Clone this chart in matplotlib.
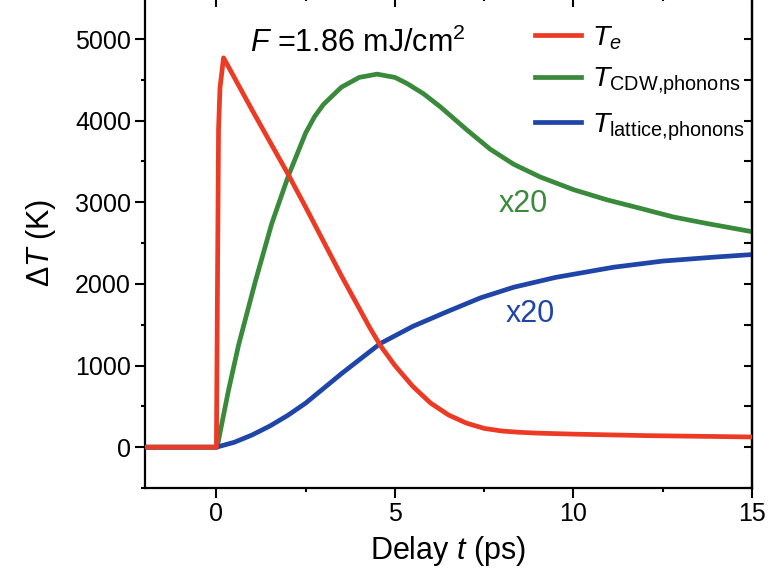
import matplotlib
matplotlib.use("Agg")
import matplotlib.pyplot as plt
from matplotlib.ticker import MultipleLocator

plt.rcParams['font.family'] = ['Liberation Sans', 'DejaVu Sans']
plt.rcParams['mathtext.fontset'] = 'custom'
plt.rcParams['mathtext.rm'] = 'Liberation Sans'
plt.rcParams['mathtext.it'] = 'Liberation Sans:italic'
plt.rcParams['mathtext.default'] = 'it'

# values
t_e = [-2, 0, 0.03, 0.06, 0.1, 0.2, 0.5, 1.0, 1.5, 2.0, 2.5, 3.0, 3.5, 4.0, 4.3, 4.6,
       5.0, 5.5, 6.0, 6.5, 7.0, 7.5, 8.0, 8.5, 9.0, 10, 12, 15]
T_e = [0, 0, 2000, 3900, 4400, 4770, 4530, 4130, 3740, 3350, 2940, 2520, 2100, 1700, 1460, 1240,
       1000, 745, 540, 395, 295, 230, 198, 182, 172, 160, 142, 125]

t_cdw = [-2, 0.02, 0.34, 0.62, 1.09, 1.55, 2.02, 2.5, 2.75, 3.0, 3.5, 4.0, 4.5, 5.0, 5.34, 5.8,
         6.27, 7.02, 7.67, 8.33, 9.07, 10.0, 10.94, 11.88, 12.8, 13.74, 15.0]
T_cdw = [0, 0, 700, 1250, 2030, 2740, 3330, 3850, 4050, 4200, 4410, 4530, 4570, 4530, 4455, 4330,
         4170, 3885, 3650, 3465, 3310, 3155, 3030, 2925, 2820, 2740, 2640]

t_lat = [-2, 0, 0.5, 1.0, 1.5, 2.0, 2.5, 3.0, 3.5, 4.0, 4.59, 5.5, 6.46, 7.4, 8.33,
         9.5, 11.13, 12.5, 14.0, 15.0]
T_lat = [0, 0, 60, 150, 260, 390, 540, 720, 900, 1070, 1270, 1480, 1660, 1830, 1960,
         2080, 2205, 2280, 2330, 2360]

red = '#ec3a24'
green = '#3a8a3c'
blue = '#1f45a8'

fig = plt.figure(figsize=(7.71, 5.77), dpi=100)
ax = fig.add_axes([145/771, 89/577, 607/771, 491/577])

ax.plot(t_e, T_e, color=red, lw=3.4, label=r'$T_e$', zorder=3, solid_joinstyle='round')
ax.plot(t_cdw, T_cdw, color=green, lw=3.4, label=r'$T_{\mathrm{CDW{,}phonons}}$', zorder=2,
        solid_joinstyle='round')
ax.plot(t_lat, T_lat, color=blue, lw=3.4, label=r'$T_{\mathrm{lattice{,}phonons}}$', zorder=2,
        solid_joinstyle='round')

ax.set_xlim(-2, 15)
ax.set_ylim(-500, 5515)
ax.xaxis.set_major_locator(MultipleLocator(5))
ax.xaxis.set_minor_locator(MultipleLocator(2.5))
ax.yaxis.set_major_locator(MultipleLocator(1000))
ax.yaxis.set_minor_locator(MultipleLocator(500))

for s in ax.spines.values():
    s.set_linewidth(1.6)
ax.tick_params(which='major', direction='out', length=7, width=1.5, labelsize=18, pad=3)
ax.tick_params(which='minor', direction='out', length=3, width=1.5)

# inward ticks on top and right
secx = ax.secondary_xaxis('top')
secx.xaxis.set_major_locator(MultipleLocator(5))
secx.xaxis.set_minor_locator(MultipleLocator(2.5))
secx.tick_params(which='major', direction='in', length=7, width=1.5, labeltop=False)
secx.tick_params(which='minor', direction='in', length=3, width=1.5)
secy = ax.secondary_yaxis('right')
secy.yaxis.set_major_locator(MultipleLocator(1000))
secy.yaxis.set_minor_locator(MultipleLocator(500))
secy.tick_params(which='both', direction='in', length=6, width=1.5, labelright=False)
for s in list(secx.spines.values()) + list(secy.spines.values()):
    s.set_linewidth(1.6)

ax.set_xlabel(r'Delay $t$ (ps)', fontsize=22, labelpad=6)
ax.set_ylabel(r'$\Delta T$ (K)', fontsize=22, labelpad=12)

ax.text(0.173, 0.888, r'$F$ =1.86 mJ/cm$^2$', transform=ax.transAxes,
        fontsize=22, va='baseline', ha='left')
ax.text(7.9, 2880, 'x20', color=green, fontsize=22, va='baseline', ha='left')
ax.text(8.1, 1530, 'x20', color=blue, fontsize=22, va='baseline', ha='left')

ax.legend(loc='upper left', bbox_to_anchor=(535/771, 1 - 24/577), bbox_transform=fig.transFigure,
          frameon=False, fontsize=20.5, handlelength=1.6, handletextpad=0.4,
          labelspacing=0.5, borderpad=0, borderaxespad=0)

fig.savefig('out.png', dpi=100)
